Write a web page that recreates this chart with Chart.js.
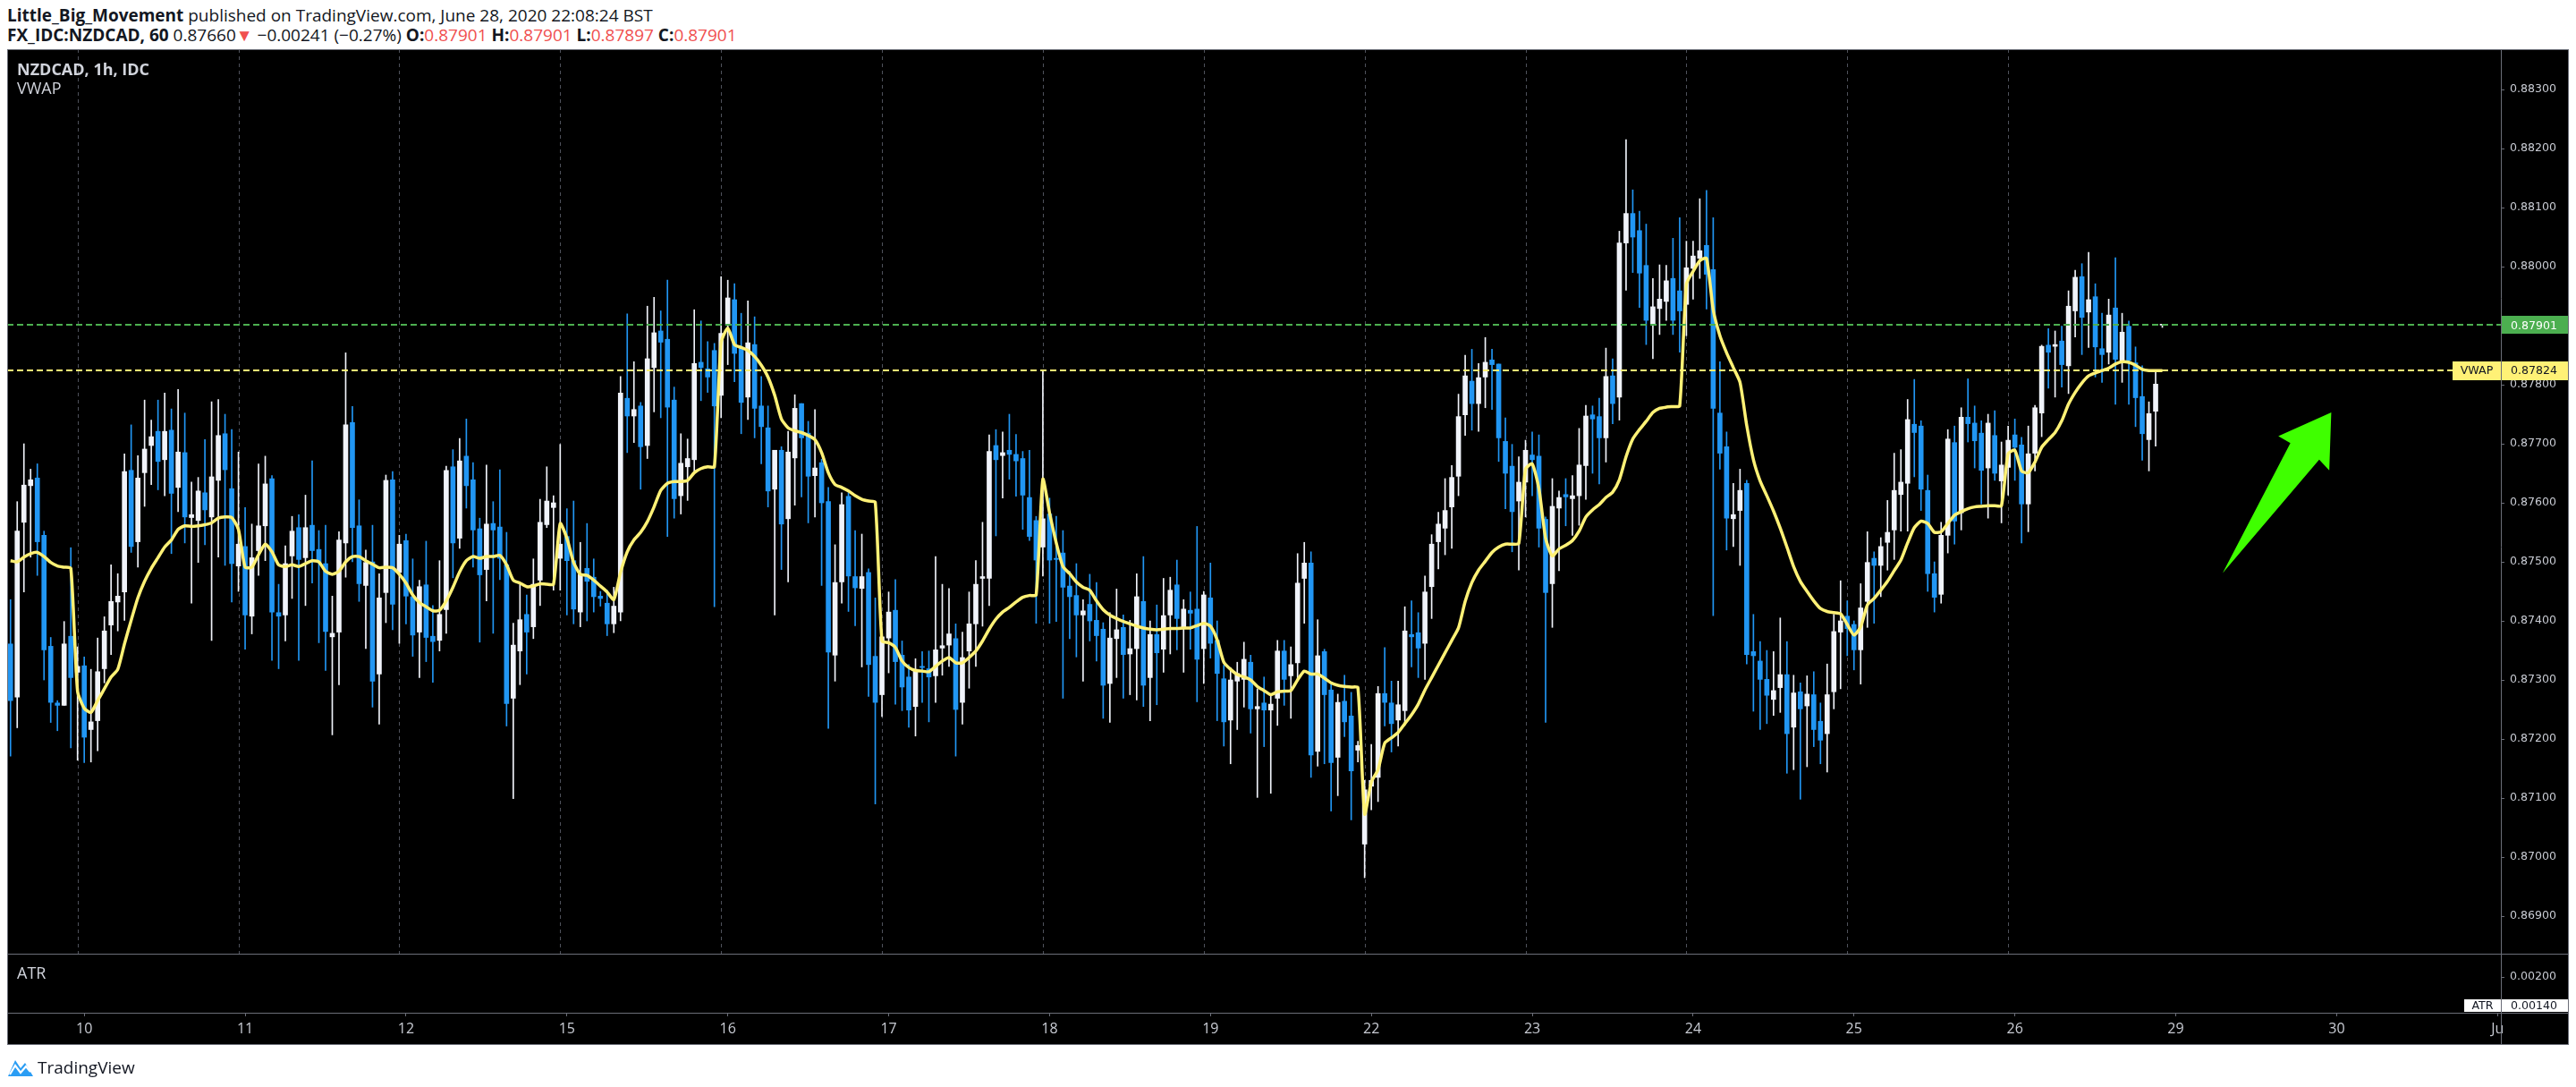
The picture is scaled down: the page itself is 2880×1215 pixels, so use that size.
<!DOCTYPE html>
<html>
<head>
<meta charset="utf-8">
<script src="https://cdn.jsdelivr.net/npm/chart.js@4.4.1/dist/chart.umd.min.js"></script>
<style>
  body { margin: 0; width: 2880px; height: 1215px; background: #fff; position: relative; overflow: hidden;
         font-family: 'Liberation Sans Narrow', 'Open Sans', sans-serif; color: #131722; }
  .hdr { position: absolute; left: 8px; font-size: 19px; line-height: 22px; white-space: nowrap; }
  .red { color: #f0504f; }
  #wrap { position: absolute; left: 8px; top: 55px; width: 2864px; height: 1113px; }
  .lg { position: absolute; left: 19px; color: #d1d4dc; font-size: 18px; line-height: 20px; white-space: nowrap; }
  #foot { position: absolute; left: 8px; top: 1181px; height: 24px; display: flex; align-items: center; font-size: 19px; }
</style>
</head>
<body>
<div class="hdr" style="top:6px"><b>Little_Big_Movement</b> published on TradingView.com, June 28, 2020 22:08:24 BST</div>
<div class="hdr" style="top:28px"><b>FX_IDC:NZDCAD, 60</b> 0.87660<span class="red">▼</span> −0.00241 (−0.27%) <b>O:</b><span class="red">0.87901</span> <b>H:</b><span class="red">0.87901</span> <b>L:</b><span class="red">0.87897</span> <b>C:</b><span class="red">0.87901</span></div>
<div id="wrap"><canvas id="chart" width="2864" height="1113"></canvas></div>
<div class="lg" style="top:67px;font-weight:bold">NZDCAD, 1h, IDC</div>
<div class="lg" style="top:88px">VWAP</div>
<div class="lg" style="top:1077px">ATR</div>
<div id="foot">
  <svg width="30" height="22" viewBox="0 0 30 22"><path d="M1 21 L9 3 L15 12 L20 6 L29 21 Z" fill="#2a9df4"/><path d="M3 19 L9 9 L15 17 L21 10 L26 16" stroke="#fff" stroke-width="2.2" fill="none"/></svg>
  <span style="margin-left:4px">TradingView</span>
</div>
<script>
// hourly NZDCAD bars, 9 Jun 13:00 .. 26 Jun; one session = 24 bars
const opens = [
  0.87361,0.87271,0.87567,0.87629,0.87642,0.87545,0.87357,0.87261,0.87257,0.87374,
  // 10 Jun
  0.87313,0.87324,0.87216,0.87231,0.87319,0.87393,0.87432,0.87449,0.87655,0.87534,0.87651,0.87697,0.87721,0.87673,0.87723,0.87626,0.87685,0.87575,0.87570,0.87617,0.87576,0.87638,0.87717,0.87624,
  // 11 Jun
  0.87493,0.87526,0.87408,0.87519,0.87561,0.87641,0.87414,0.87410,0.87510,0.87558,0.87507,0.87562,0.87521,0.87497,0.87373,0.87381,0.87532,0.87736,0.87561,0.87460,0.87500,0.87310,0.87448,0.87639,
  // 12 Jun
  0.87482,0.87536,0.87441,0.87381,0.87461,0.87374,0.87367,0.87419,0.87661,0.87540,0.87679,0.87639,0.87556,0.87487,0.87565,0.87559,0.87495,0.87269,0.87349,0.87411,0.87390,0.87469,0.87563,0.87592,
  // 15 Jun
  0.87506,0.87543,0.87502,0.87415,0.87489,0.87474,0.87442,0.87430,0.87395,0.87415,0.87777,0.87747,0.87764,0.87697,0.87829,0.87891,0.87877,0.87774,0.87612,0.87661,0.87673,0.87838,0.87827,0.87858,
  // 16 Jun
  0.87782,0.87901,0.87944,0.87861,0.87779,0.87868,0.87764,0.87727,0.87623,0.87689,0.87573,0.87676,0.87768,0.87718,0.87646,0.87668,0.87602,0.87342,0.87466,0.87611,0.87475,0.87455,0.87482,0.87340,
  // 17 Jun
  0.87275,0.87371,0.87418,0.87342,0.87305,0.87255,0.87323,0.87319,0.87307,0.87354,0.87359,0.87370,0.87262,0.87349,0.87395,0.87472,0.87472,0.87697,0.87680,0.87689,0.87682,0.87675,0.87609,0.87570,
  // 18 Jun
  0.87525,0.87581,0.87506,0.87515,0.87459,0.87443,0.87410,0.87428,0.87401,0.87386,0.87294,0.87370,0.87389,0.87344,0.87353,0.87433,0.87304,0.87377,0.87352,0.87410,0.87461,0.87388,0.87418,0.87420,
  // 19 Jun
  0.87353,0.87439,0.87367,0.87302,0.87232,0.87298,0.87301,0.87330,0.87251,0.87261,0.87249,0.87269,0.87349,0.87307,0.87329,0.87472,0.87498,0.87179,0.87348,0.87283,0.87169,0.87264,0.87239,0.87181,
  // 22 Jun
  0.87022,0.87120,0.87135,0.87277,0.87261,0.87232,0.87248,0.87377,0.87380,0.87362,0.87458,0.87534,0.87557,0.87593,0.87645,0.87749,0.87806,0.87768,0.87813,0.87842,0.87835,0.87704,0.87662,0.87603,
  // 23 Jun
  0.87635,0.87681,0.87679,0.87572,0.87463,0.87591,0.87614,0.87607,0.87612,0.87663,0.87749,0.87746,0.87710,0.87815,0.87779,0.88040,0.88090,0.88061,0.88002,0.87902,0.87929,0.87941,0.87980,0.87959,
  // 24 Jun
  0.87936,0.87997,0.88014,0.88036,0.87995,0.87752,0.87695,0.87573,0.87587,0.87633,0.87348,0.87332,0.87301,0.87267,0.87287,0.87309,0.87220,0.87280,0.87256,0.87275,0.87230,0.87209,0.87280,0.87381,
  // 25 Jun
  0.87408,0.87394,0.87351,0.87433,0.87506,0.87494,0.87533,0.87554,0.87614,0.87633,0.87733,0.87730,0.87621,0.87480,0.87445,0.87545,0.87702,0.87583,0.87745,0.87735,0.87718,0.87659,0.87714,0.87637,
  // 26 Jun
  0.87660,0.87715,0.87698,0.87598,0.87684,0.87752,0.87867,0.87865,0.87874,0.87832,0.87925,0.87983,0.87923,0.87949,0.87861,0.87855,0.87930,0.87840,0.87899,0.87837,0.87780,0.87707,0.87755,0.87901
];
const highs = [
  0.87436,0.87602,0.87700,0.87657,0.87666,0.87552,0.87372,0.87265,0.87399,0.87524,
  0.87356,0.87339,0.87318,0.87371,0.87407,0.87495,0.87480,0.87683,0.87732,0.87680,0.87774,0.87740,0.87774,0.87786,0.87759,0.87792,0.87752,0.87635,0.87643,0.87707,0.87771,0.87775,0.87750,0.87724,
  0.87686,0.87592,0.87564,0.87666,0.87679,0.87646,0.87462,0.87527,0.87577,0.87580,0.87613,0.87671,0.87553,0.87562,0.87442,0.87551,0.87854,0.87763,0.87605,0.87520,0.87562,0.87480,0.87647,0.87653,
  0.87545,0.87547,0.87505,0.87469,0.87535,0.87426,0.87502,0.87662,0.87690,0.87709,0.87742,0.87668,0.87574,0.87664,0.87602,0.87656,0.87550,0.87396,0.87463,0.87444,0.87505,0.87606,0.87661,0.87612,
  0.87699,0.87590,0.87603,0.87533,0.87565,0.87505,0.87450,0.87452,0.87457,0.87814,0.87920,0.87839,0.87770,0.87933,0.87948,0.87925,0.87977,0.87796,0.87717,0.87708,0.87927,0.87908,0.87873,0.87870,
  0.87983,0.87977,0.87971,0.87921,0.87942,0.87915,0.87814,0.87764,0.87689,0.87695,0.87721,0.87783,0.87768,0.87738,0.87758,0.87674,0.87626,0.87529,0.87617,0.87617,0.87553,0.87547,0.87488,0.87439,
  0.87373,0.87449,0.87470,0.87366,0.87326,0.87336,0.87348,0.87349,0.87509,0.87462,0.87455,0.87395,0.87381,0.87449,0.87502,0.87567,0.87715,0.87724,0.87720,0.87750,0.87716,0.87687,0.87689,0.87577,
  0.87824,0.87608,0.87577,0.87553,0.87484,0.87497,0.87436,0.87479,0.87465,0.87397,0.87414,0.87454,0.87410,0.87401,0.87480,0.87509,0.87400,0.87427,0.87472,0.87474,0.87503,0.87436,0.87449,0.87560,
  0.87450,0.87498,0.87400,0.87325,0.87321,0.87330,0.87364,0.87342,0.87285,0.87305,0.87277,0.87367,0.87367,0.87356,0.87514,0.87533,0.87517,0.87402,0.87352,0.87292,0.87276,0.87308,0.87279,0.87196,
  0.87130,0.87191,0.87289,0.87355,0.87298,0.87298,0.87424,0.87434,0.87414,0.87476,0.87546,0.87584,0.87641,0.87663,0.87784,0.87850,0.87860,0.87836,0.87880,0.87860,0.87835,0.87744,0.87699,0.87678,
  0.87706,0.87720,0.87715,0.87576,0.87641,0.87620,0.87641,0.87646,0.87726,0.87765,0.87764,0.87777,0.87862,0.87844,0.88060,0.88215,0.88130,0.88094,0.88072,0.87980,0.88003,0.88002,0.88048,0.88083,
  0.88043,0.88043,0.88115,0.88129,0.88083,0.87839,0.87720,0.87633,0.87657,0.87638,0.87411,0.87365,0.87350,0.87348,0.87405,0.87365,0.87308,0.87295,0.87307,0.87314,0.87261,0.87327,0.87411,0.87468,
  0.87434,0.87400,0.87463,0.87551,0.87517,0.87541,0.87604,0.87684,0.87690,0.87775,0.87809,0.87739,0.87647,0.87500,0.87567,0.87724,0.87730,0.87761,0.87810,0.87764,0.87739,0.87750,0.87756,0.87703,
  0.87730,0.87742,0.87711,0.87730,0.87765,0.87867,0.87895,0.87891,0.87899,0.87959,0.87994,0.88005,0.88024,0.87971,0.87921,0.87945,0.88015,0.87921,0.87908,0.87864,0.87832,0.87771,0.87824,0.87901
];
const lows = [
  0.87171,0.87219,0.87449,0.87508,0.87477,0.87300,0.87228,0.87214,0.87257,0.87185,
  0.87164,0.87160,0.87161,0.87180,0.87295,0.87343,0.87383,0.87401,0.87516,0.87491,0.87594,0.87631,0.87622,0.87612,0.87514,0.87585,0.87532,0.87430,0.87499,0.87529,0.87367,0.87508,0.87494,0.87432,
  0.87450,0.87352,0.87378,0.87477,0.87502,0.87333,0.87319,0.87366,0.87438,0.87333,0.87426,0.87464,0.87363,0.87316,0.87207,0.87292,0.87474,0.87500,0.87433,0.87353,0.87254,0.87225,0.87397,0.87385,
  0.87362,0.87395,0.87340,0.87304,0.87331,0.87296,0.87349,0.87379,0.87473,0.87523,0.87591,0.87491,0.87364,0.87434,0.87379,0.87470,0.87222,0.87099,0.87292,0.87310,0.87370,0.87426,0.87558,0.87452,
  0.87452,0.87410,0.87395,0.87390,0.87400,0.87415,0.87425,0.87375,0.87380,0.87400,0.87685,0.87702,0.87623,0.87675,0.87754,0.87744,0.87543,0.87574,0.87581,0.87604,0.87650,0.87773,0.87787,0.87424,
  0.87744,0.87834,0.87805,0.87717,0.87741,0.87710,0.87666,0.87593,0.87410,0.87487,0.87466,0.87596,0.87610,0.87566,0.87576,0.87460,0.87218,0.87298,0.87430,0.87416,0.87392,0.87322,0.87272,0.87090,
  0.87238,0.87312,0.87259,0.87248,0.87220,0.87205,0.87262,0.87229,0.87262,0.87308,0.87323,0.87171,0.87225,0.87286,0.87323,0.87391,0.87426,0.87544,0.87608,0.87640,0.87611,0.87555,0.87536,0.87396,
  0.87476,0.87396,0.87399,0.87269,0.87370,0.87339,0.87298,0.87366,0.87332,0.87235,0.87228,0.87304,0.87269,0.87275,0.87266,0.87255,0.87231,0.87258,0.87313,0.87344,0.87351,0.87313,0.87352,0.87263,
  0.87294,0.87337,0.87231,0.87188,0.87158,0.87216,0.87254,0.87210,0.87101,0.87187,0.87108,0.87223,0.87257,0.87235,0.87299,0.87396,0.87135,0.87154,0.87158,0.87078,0.87104,0.87204,0.87063,0.87161,
  0.86965,0.87080,0.87094,0.87222,0.87178,0.87188,0.87226,0.87322,0.87304,0.87301,0.87404,0.87488,0.87512,0.87523,0.87612,0.87714,0.87723,0.87721,0.87761,0.87758,0.87670,0.87590,0.87517,0.87486,
  0.87576,0.87612,0.87525,0.87228,0.87389,0.87485,0.87561,0.87545,0.87562,0.87606,0.87650,0.87632,0.87669,0.87734,0.87740,0.87960,0.87990,0.87931,0.87868,0.87844,0.87885,0.87909,0.87885,0.87855,
  0.87883,0.87945,0.87980,0.87928,0.87409,0.87657,0.87520,0.87526,0.87494,0.87327,0.87247,0.87216,0.87226,0.87240,0.87245,0.87142,0.87148,0.87098,0.87153,0.87187,0.87158,0.87144,0.87251,0.87285,
  0.87341,0.87317,0.87293,0.87389,0.87396,0.87441,0.87486,0.87504,0.87552,0.87552,0.87644,0.87587,0.87450,0.87415,0.87430,0.87515,0.87530,0.87554,0.87703,0.87659,0.87598,0.87574,0.87638,0.87566,
  0.87613,0.87638,0.87532,0.87551,0.87654,0.87712,0.87794,0.87779,0.87796,0.87785,0.87881,0.87851,0.87863,0.87813,0.87804,0.87835,0.87767,0.87804,0.87767,0.87729,0.87672,0.87654,0.87696,0.87897
];
const closes = [
  0.87265,0.87552,0.87630,0.87639,0.87534,0.87351,0.87262,0.87257,0.87361,0.87304,
  0.87323,0.87203,0.87229,0.87314,0.87383,0.87433,0.87442,0.87653,0.87526,0.87642,0.87691,0.87712,0.87670,0.87721,0.87616,0.87686,0.87576,0.87580,0.87620,0.87588,0.87644,0.87714,0.87656,0.87497,
  0.87530,0.87410,0.87507,0.87561,0.87632,0.87415,0.87408,0.87497,0.87552,0.87504,0.87558,0.87519,0.87499,0.87382,0.87379,0.87537,0.87732,0.87558,0.87463,0.87499,0.87298,0.87439,0.87638,0.87428,
  0.87530,0.87442,0.87376,0.87458,0.87372,0.87365,0.87411,0.87655,0.87532,0.87671,0.87629,0.87554,0.87478,0.87564,0.87554,0.87506,0.87260,0.87359,0.87402,0.87381,0.87462,0.87567,0.87603,0.87600,
  0.87530,0.87502,0.87420,0.87479,0.87467,0.87441,0.87438,0.87395,0.87425,0.87786,0.87747,0.87758,0.87695,0.87844,0.87888,0.87872,0.87762,0.87607,0.87667,0.87675,0.87836,0.87829,0.87813,0.87764,
  0.87887,0.87947,0.87853,0.87770,0.87871,0.87760,0.87729,0.87620,0.87689,0.87564,0.87686,0.87760,0.87710,0.87645,0.87659,0.87600,0.87347,0.87465,0.87597,0.87476,0.87456,0.87475,0.87326,0.87262,
  0.87373,0.87415,0.87331,0.87288,0.87249,0.87318,0.87321,0.87305,0.87351,0.87358,0.87378,0.87250,0.87338,0.87395,0.87462,0.87475,0.87687,0.87673,0.87685,0.87682,0.87671,0.87613,0.87543,0.87503,
  0.87573,0.87503,0.87504,0.87457,0.87441,0.87410,0.87417,0.87400,0.87375,0.87291,0.87371,0.87385,0.87343,0.87353,0.87441,0.87291,0.87377,0.87346,0.87409,0.87452,0.87404,0.87420,0.87413,0.87335,
  0.87444,0.87362,0.87311,0.87229,0.87300,0.87311,0.87335,0.87251,0.87255,0.87249,0.87259,0.87349,0.87301,0.87326,0.87464,0.87498,0.87173,0.87341,0.87275,0.87160,0.87262,0.87229,0.87146,0.87189,
  0.87114,0.87130,0.87277,0.87262,0.87226,0.87258,0.87383,0.87373,0.87354,0.87449,0.87530,0.87564,0.87587,0.87643,0.87746,0.87815,0.87768,0.87812,0.87838,0.87834,0.87710,0.87650,0.87585,0.87635,
  0.87689,0.87673,0.87557,0.87448,0.87594,0.87609,0.87610,0.87612,0.87664,0.87747,0.87742,0.87710,0.87814,0.87768,0.88040,0.88090,0.88050,0.87989,0.87909,0.87932,0.87945,0.87976,0.87909,0.87925,
  0.87998,0.88018,0.88027,0.87987,0.87760,0.87684,0.87574,0.87580,0.87621,0.87343,0.87341,0.87301,0.87274,0.87282,0.87309,0.87209,0.87278,0.87251,0.87276,0.87216,0.87198,0.87275,0.87382,0.87400,
  0.87387,0.87351,0.87422,0.87499,0.87494,0.87526,0.87550,0.87621,0.87635,0.87741,0.87719,0.87623,0.87480,0.87440,0.87545,0.87708,0.87569,0.87745,0.87734,0.87705,0.87655,0.87735,0.87650,0.87664,
  0.87706,0.87694,0.87598,0.87683,0.87761,0.87865,0.87855,0.87868,0.87834,0.87933,0.87982,0.87914,0.87944,0.87864,0.87851,0.87918,0.87843,0.87889,0.87841,0.87778,0.87717,0.87751,0.87801,0.87901
];
// session VWAP, one value per bar
const vwap = [
  0.87502,0.87500,0.87508,0.87514,0.87516,0.87509,0.87499,0.87493,0.87491,0.87489,
  0.87281,0.87252,0.87245,0.87265,0.87285,0.87305,0.87318,0.87361,0.87401,0.87439,0.87467,0.87489,0.87507,0.87525,0.87537,0.87555,0.87561,0.87560,0.87561,0.87563,0.87566,0.87574,0.87576,0.87575,
  0.87555,0.87491,0.87491,0.87512,0.87530,0.87517,0.87495,0.87492,0.87495,0.87492,0.87497,0.87502,0.87500,0.87484,0.87479,0.87484,0.87500,0.87509,0.87509,0.87502,0.87496,0.87490,0.87491,0.87490,
  0.87479,0.87464,0.87444,0.87431,0.87424,0.87417,0.87418,0.87434,0.87457,0.87483,0.87502,0.87509,0.87506,0.87509,0.87509,0.87511,0.87495,0.87469,0.87464,0.87458,0.87459,0.87463,0.87462,0.87462,
  0.87565,0.87540,0.87499,0.87479,0.87477,0.87469,0.87459,0.87449,0.87436,0.87482,0.87517,0.87537,0.87550,0.87568,0.87593,0.87621,0.87633,0.87636,0.87636,0.87638,0.87651,0.87658,0.87661,0.87661,
  0.87871,0.87896,0.87868,0.87863,0.87858,0.87848,0.87833,0.87813,0.87782,0.87742,0.87727,0.87722,0.87719,0.87714,0.87707,0.87685,0.87651,0.87631,0.87626,0.87620,0.87612,0.87606,0.87603,0.87601,
  0.87366,0.87363,0.87355,0.87332,0.87321,0.87316,0.87315,0.87314,0.87323,0.87332,0.87338,0.87329,0.87329,0.87338,0.87349,0.87366,0.87386,0.87403,0.87415,0.87423,0.87432,0.87440,0.87443,0.87444,
  0.87640,0.87583,0.87532,0.87492,0.87480,0.87466,0.87457,0.87452,0.87434,0.87419,0.87410,0.87404,0.87399,0.87395,0.87391,0.87388,0.87386,0.87385,0.87386,0.87387,0.87387,0.87388,0.87388,0.87392,
  0.87396,0.87391,0.87368,0.87330,0.87318,0.87309,0.87305,0.87300,0.87289,0.87282,0.87275,0.87280,0.87281,0.87282,0.87300,0.87315,0.87310,0.87310,0.87303,0.87295,0.87291,0.87289,0.87288,0.87287,
  0.87073,0.87127,0.87148,0.87193,0.87202,0.87211,0.87226,0.87241,0.87259,0.87283,0.87304,0.87325,0.87346,0.87367,0.87388,0.87433,0.87465,0.87486,0.87501,0.87516,0.87525,0.87530,0.87530,0.87531,
  0.87657,0.87666,0.87624,0.87540,0.87510,0.87522,0.87528,0.87536,0.87552,0.87576,0.87588,0.87597,0.87609,0.87618,0.87639,0.87678,0.87708,0.87724,0.87738,0.87753,0.87760,0.87762,0.87763,0.87764,
  0.87970,0.87992,0.88010,0.88014,0.87927,0.87883,0.87854,0.87829,0.87804,0.87731,0.87673,0.87637,0.87612,0.87586,0.87557,0.87525,0.87492,0.87467,0.87450,0.87434,0.87421,0.87416,0.87414,0.87412,
  0.87394,0.87376,0.87390,0.87427,0.87438,0.87452,0.87467,0.87485,0.87503,0.87532,0.87558,0.87569,0.87565,0.87550,0.87551,0.87565,0.87579,0.87585,0.87590,0.87593,0.87594,0.87595,0.87595,0.87595,
  0.87683,0.87689,0.87654,0.87651,0.87669,0.87694,0.87707,0.87719,0.87739,0.87767,0.87787,0.87803,0.87815,0.87820,0.87824,0.87828,0.87835,0.87839,0.87838,0.87833,0.87826,0.87824,0.87824,0.87824
];
const dayLabels = ['10','11','12','15','16','17','18','19','22','23','24','25','26','29','30','Ju'];
const priceTicks = [0.869,0.870,0.871,0.872,0.873,0.874,0.875,0.876,0.877,0.878,0.879,0.880,0.881,0.882,0.883];
const atrTicks = [0.002];
const lastPrice = 0.87901, vwapLast = 0.87824, atrLast = 0.00140;
// hand-drawn arrow, in (bar slot, price)
const arrowPts = [[330.0,0.87481],[340.1,0.87701],[338.3,0.87713],[346.2,0.87753],[345.9,0.87655],[344.4,0.87673]];

const PRE = 10, PER = 24, SLOTS = 372;
const Y_MIN = 0.868364, Y_MAX = 0.883682, ATR_MIN = 0.00125, ATR_MAX = 0.0024875;
const UP = '#f0f3fa', DOWN = '#2196f3', VWAP_COL = '#fff176', FRAME = '#6b6e78', TEXT = '#c9ccd4';

const labels = Array(SLOTS).fill('');
const tickSlots = dayLabels.map((d, k) => PRE + PER * k + 1);
tickSlots.forEach((s, k) => labels[s] = dayLabels[k]);
const sessionStarts = [];
for (let s = PRE; s < closes.length; s += PER) sessionStarts.push(s);

const colors = closes.map((c, i) => c >= opens[i] ? UP : DOWN);
const bodies = opens.map((o, i) => [o, closes[i]]);
const wicks = lows.map((l, i) => [l, highs[i]]);

const axisFont = { family: 'DejaVu Sans', size: 12.6 };

const tvPanes = {
  id: 'tvPanes',
  beforeDraw(chart) {
    const { ctx, width, height } = chart;
    ctx.save();
    ctx.fillStyle = '#000';
    ctx.fillRect(0, 0, width, height);
    ctx.restore();
  },
  beforeDatasetsDraw(chart) {
    const { ctx } = chart;
    const x = chart.scales.x, y = chart.scales.y;
    ctx.save();
    ctx.strokeStyle = '#4f525c';
    ctx.lineWidth = 1;
    ctx.setLineDash([4, 4]);
    sessionStarts.forEach(s => {
      const px = Math.round(x.getPixelForValue(s)) + 0.5;
      ctx.beginPath(); ctx.moveTo(px, y.top); ctx.lineTo(px, y.bottom); ctx.stroke();
    });
    ctx.restore();
  },
  afterDatasetsDraw(chart) {
    const { ctx, chartArea } = chart;
    const x = chart.scales.x, y = chart.scales.y;
    ctx.save();
    ctx.lineWidth = 2;
    ctx.setLineDash([7, 4]);
    let py = Math.round(y.getPixelForValue(lastPrice));
    ctx.strokeStyle = '#4caf50';
    ctx.beginPath(); ctx.moveTo(chartArea.left, py); ctx.lineTo(chartArea.right, py); ctx.stroke();
    py = Math.round(y.getPixelForValue(vwapLast));
    ctx.strokeStyle = VWAP_COL;
    ctx.beginPath(); ctx.moveTo(chartArea.left, py); ctx.lineTo(chartArea.right - 54, py); ctx.stroke();
    ctx.setLineDash([]);
    // green arrow
    ctx.fillStyle = '#3fff00';
    ctx.beginPath();
    arrowPts.forEach(([s, p], i) => {
      const px = x.getPixelForValue(s), pyy = y.getPixelForValue(p);
      if (i === 0) ctx.moveTo(px, pyy); else ctx.lineTo(px, pyy);
    });
    ctx.closePath();
    ctx.fill();
    ctx.restore();
  },
  afterDraw(chart) {
    const { ctx, width, height, chartArea } = chart;
    const y = chart.scales.y, atr = chart.scales.atr;
    const R = Math.round(chartArea.right);
    ctx.save();
    ctx.strokeStyle = FRAME;
    ctx.lineWidth = 1;
    const hline = yy => { ctx.beginPath(); ctx.moveTo(0, yy); ctx.lineTo(width, yy); ctx.stroke(); };
    ctx.strokeRect(0.5, 0.5, width - 1, height - 1);
    hline(Math.round(atr.top) + 0.5);
    hline(Math.round(chartArea.bottom) + 0.5);
    ctx.beginPath(); ctx.moveTo(R + 0.5, 0); ctx.lineTo(R + 0.5, height); ctx.stroke();

    ctx.font = '12.6px "DejaVu Sans"';
    ctx.textBaseline = 'middle';
    const tag = (x1, x2, yc, h, bg, fg, text, align) => {
      ctx.fillStyle = bg;
      ctx.fillRect(x1, Math.round(yc - h / 2), x2 - x1, h);
      ctx.fillStyle = fg;
      ctx.textAlign = align;
      ctx.fillText(text, align === 'left' ? x1 + 10 : (x1 + x2) / 2, yc + 1);
    };
    let yc = y.getPixelForValue(lastPrice);
    tag(R + 1, width - 1, yc, 20, '#4caf50', '#ffffff', lastPrice.toFixed(5), 'left');
    yc = y.getPixelForValue(vwapLast);
    tag(R + 1, width - 1, yc, 21, VWAP_COL, '#131722', vwapLast.toFixed(5), 'left');
    tag(R - 54, R, yc, 21, VWAP_COL, '#131722', 'VWAP', 'center');
    yc = atr.getPixelForValue(atrLast);
    tag(R + 1, width - 1, yc, 14, '#ffffff', '#131722', atrLast.toFixed(5), 'left');
    tag(R - 41, R, yc, 14, '#ffffff', '#131722', 'ATR', 'center');
    ctx.restore();
  }
};

new Chart(document.getElementById('chart'), {
  type: 'bar',
  data: {
    labels: labels,
    datasets: [
      { type: 'line', label: 'VWAP', data: vwap, borderColor: VWAP_COL, borderWidth: 3.5,
        pointRadius: 0, tension: 0.2, order: 0, yAxisID: 'y' },
      { label: 'body', data: bodies, backgroundColor: colors, barThickness: 5, minBarLength: 1,
        grouped: false, order: 1, yAxisID: 'y' },
      { label: 'wick', data: wicks, backgroundColor: colors, barThickness: 1,
        grouped: false, order: 2, yAxisID: 'y' }
    ]
  },
  options: {
    responsive: false,
    animation: false,
    events: [],
    layout: { padding: 0 },
    plugins: { legend: { display: false }, tooltip: { enabled: false } },
    scales: {
      x: {
        type: 'category',
        offset: true,
        border: { display: false },
        grid: { drawOnChartArea: false, offset: false, tickLength: 4, color: FRAME },
        ticks: { autoSkip: false, maxRotation: 0, color: TEXT, padding: 5,
                 font: { family: "'Liberation Sans Narrow', 'Open Sans', sans-serif", size: 16 } },
        afterBuildTicks: s => { s.ticks = tickSlots.map(v => ({ value: v })); },
        afterFit: s => { s.height = 36; s.paddingLeft = 0; s.paddingRight = 0; }
      },
      y: {
        type: 'linear',
        position: 'right',
        stack: 'panes',
        stackWeight: 1011,
        min: Y_MIN,
        max: Y_MAX,
        border: { display: false },
        grid: { drawOnChartArea: false, tickLength: 4, color: FRAME },
        ticks: { color: TEXT, padding: 6, font: axisFont, callback: v => v.toFixed(5) },
        afterBuildTicks: s => { s.ticks = priceTicks.map(v => ({ value: v })); },
        afterFit: s => { s.width = 76; s.paddingTop = 0; s.paddingBottom = 0; }
      },
      atr: {
        type: 'linear',
        position: 'right',
        stack: 'panes',
        stackWeight: 66,
        min: ATR_MIN,
        max: ATR_MAX,
        border: { display: false },
        grid: { drawOnChartArea: false, tickLength: 4, color: FRAME },
        ticks: { color: TEXT, padding: 6, font: axisFont, callback: v => v.toFixed(5) },
        afterBuildTicks: s => { s.ticks = atrTicks.map(v => ({ value: v })); },
        afterFit: s => { s.width = 76; s.paddingTop = 0; s.paddingBottom = 0; }
      }
    }
  },
  plugins: [tvPanes]
});
</script>
</body>
</html>
